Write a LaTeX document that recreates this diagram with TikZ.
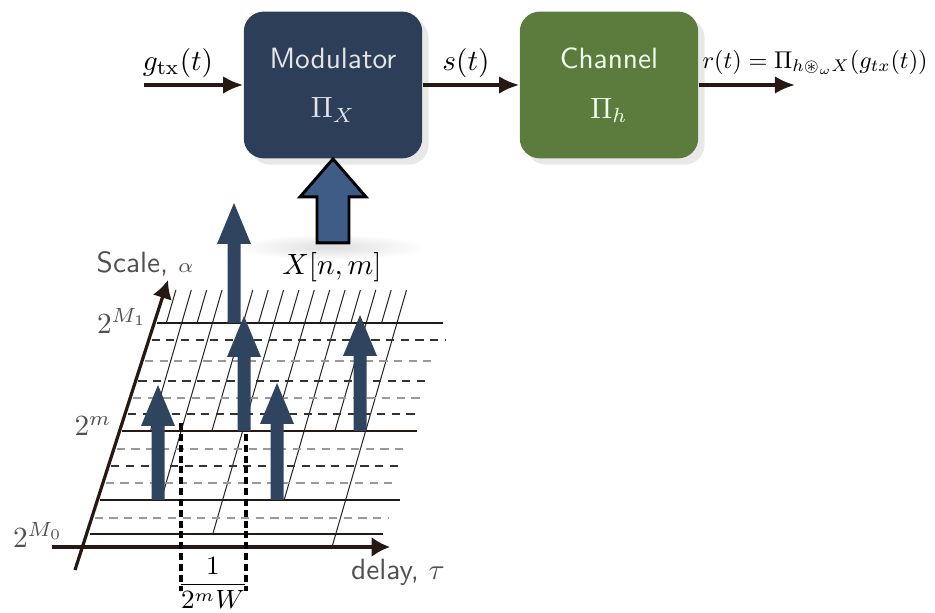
\documentclass[tikz,border=0pt]{standalone}
\usepackage{amsmath, amssymb}
\usepackage{tikz}
\usetikzlibrary{arrows.meta, positioning, calc, shadows}
\definecolor{modnavy}{RGB}{45,63,88}
\definecolor{changreen}{RGB}{92,124,62}
\definecolor{coefblue}{RGB}{47,69,95}
\definecolor{feedblue}{RGB}{62,92,134}
\definecolor{wirebrown}{RGB}{40,24,20}
\definecolor{axisgray}{RGB}{80,80,80}
\tikzset{
    box_mod/.style={
        rectangle, rounded corners=0.24cm, fill=modnavy, draw=none,
        minimum width=2.14cm, minimum height=1.76cm,
        align=center, text=white!90!black, font=\sffamily, drop shadow={opacity=0.18}
    },
    box_chan/.style={
        rectangle, rounded corners=0.24cm, fill=changreen, draw=none,
        minimum width=2.14cm, minimum height=1.76cm,
        align=center, text=green!6!white, font=\sffamily, drop shadow={opacity=0.18}
    },
    sig_arrow/.style={
        -{Latex[length=0.24cm, width=0.21cm]}, line width=1.1pt, draw=wirebrown
    },
    axis_arrow/.style={
        -{Latex[length=0.22cm, width=0.24cm]}, line width=1.1pt, draw=wirebrown
    },
    feed_arrow/.style={fill=feedblue, draw=black, line width=1pt, line join=miter},
    coef_arrow/.style={fill=coefblue},
    grid_solid/.style={line width=0.75pt, draw=wirebrown},
    grid_dash_dk/.style={line width=0.45pt, draw=black!80, dash pattern=on 2.8pt off 2.2pt},
    grid_dash_lt/.style={line width=0.45pt, draw=black!40, dash pattern=on 2.8pt off 2.2pt},
    hatch/.style={line width=0.35pt, draw=black!85},
    spacing_mark/.style={line width=1.2pt, draw=black, dash pattern=on 2.4pt off 1.3pt},
    lbl/.style={inner sep=1pt},
    axlbl/.style={text=axisgray, inner sep=1pt}
}
% x, base y, tip y (picture pixels)
\newcommand{\coefarrow}[3]{%
    \fill[coef_arrow] ({#1-6.5},#2) -- ({#1-6.5},{#3+41}) -- ({#1-17},{#3+41}) -- (#1,#3)
        -- ({#1+17},{#3+41}) -- ({#1+6.5},{#3+41}) -- ({#1+6.5},#2) -- cycle;
}

\begin{document}
\begin{tikzpicture}[x=0.012cm, y=-0.012cm, >=Latex]
    \useasboundingbox (0,0) rectangle (935,613);
    \shade[inner color=black!13, outer color=white] (330,247) ellipse (95 and 13);

    % signal chain
    \node[box_mod] (mod) at (333,85) {Modulator\\[5pt]$\Pi_X$};
    \node[box_chan] (chan) at (609,85) {Channel\\[5pt]$\Pi_h$};
    \coordinate (gin) at (144,85);
    \coordinate (rout) at (795,85);
    \draw[sig_arrow] (gin) -- (mod);
    \draw[sig_arrow] (mod) -- (chan);
    \draw[sig_arrow] (chan) -- (rout);
    \node[lbl] (glbl) at (178,63) {$g_{\mathrm{tx}}(t)$};
    \node[lbl] (slbl) at (466,63) {$s(t)$};
    \node[lbl, anchor=west] (rlbl) at (699,62)
        {\resizebox{2.7cm}{!}{$r(t) = \Pi_{h \circledast_{\omega} X}(g_{tx}(t))$}};

    \draw[feed_arrow] (mod.south) -- ++(33,38) -- ++(-17,0) -- ++(0,46) -- ++(-32,0)
        -- ++(0,-46) -- ++(-17,0) -- cycle;
    \node[lbl] (xnm) at (332,267) {$X[n,m]$};

    % delay grid
    \foreach \j/\yb in {1/323, 2/431, 3/323, 4/500, 5/323, 6/431, 7/323, 8/534,
                        9/323, 10/431, 11/323, 12/500, 13/323, 14/431, 15/323, 16/547}
        \draw[hatch] ({86+15.375*\j+0.29*257},290) -- ({86+15.375*\j+0.29*(547-\yb)},\yb);
    \foreach \yy/\xr in {323/443, 431/417, 500/400, 534/383}
        \draw[grid_solid] ({78+(570-\yy)*0.32},\yy) -- (\xr,\yy);
    \foreach \yy/\xr in {340/445, 381/430, 414/418, 466/402}
        \draw[grid_dash_dk] ({78+(570-\yy)*0.32},\yy) -- (\xr,\yy);
    \foreach \yy/\xr in {361/435, 398/422, 449/407, 483/395, 518/388}
        \draw[grid_dash_lt] ({78+(570-\yy)*0.32},\yy) -- (\xr,\yy);

    % axes
    \coordinate (sbot) at (75,570);
    \coordinate (stop) at (168,280);
    \coordinate (dleft) at (52,547);
    \coordinate (dright) at (390,547);
    \draw[axis_arrow] (sbot) -- (stop);
    \draw[axis_arrow] (dleft) -- (dright);
    \node[axlbl] (scl) at (145,264) {\sffamily Scale, $\scriptstyle\alpha$};
    \node[axlbl] (dly) at (398,572) {\sffamily delay, $\tau$};
    \node[axlbl] (mone) at (122,321) {$2^{M_1}$};
    \node[axlbl] (mlev) at (93,426) {$2^{m}$};
    \node[axlbl] (mzero) at (38,535) {$2^{M_0}$};

    % delay spacing
    \coordinate (wa) at (181,423);
    \coordinate (wb) at (246,423);
    \draw[spacing_mark] (wa) -- ++(0,168);
    \draw[spacing_mark] (wb) -- ++(0,168);
    \node[lbl] (wfrac) at (213,583) {\small$\dfrac{1}{2^m W}$};

    % coefficients
    \coefarrow{158}{500}{385}
    \coefarrow{277}{500}{383}
    \coefarrow{244}{431}{316}
    \coefarrow{360}{431}{315}
    \coefarrow{234}{323}{203}
\end{tikzpicture}
\end{document}
